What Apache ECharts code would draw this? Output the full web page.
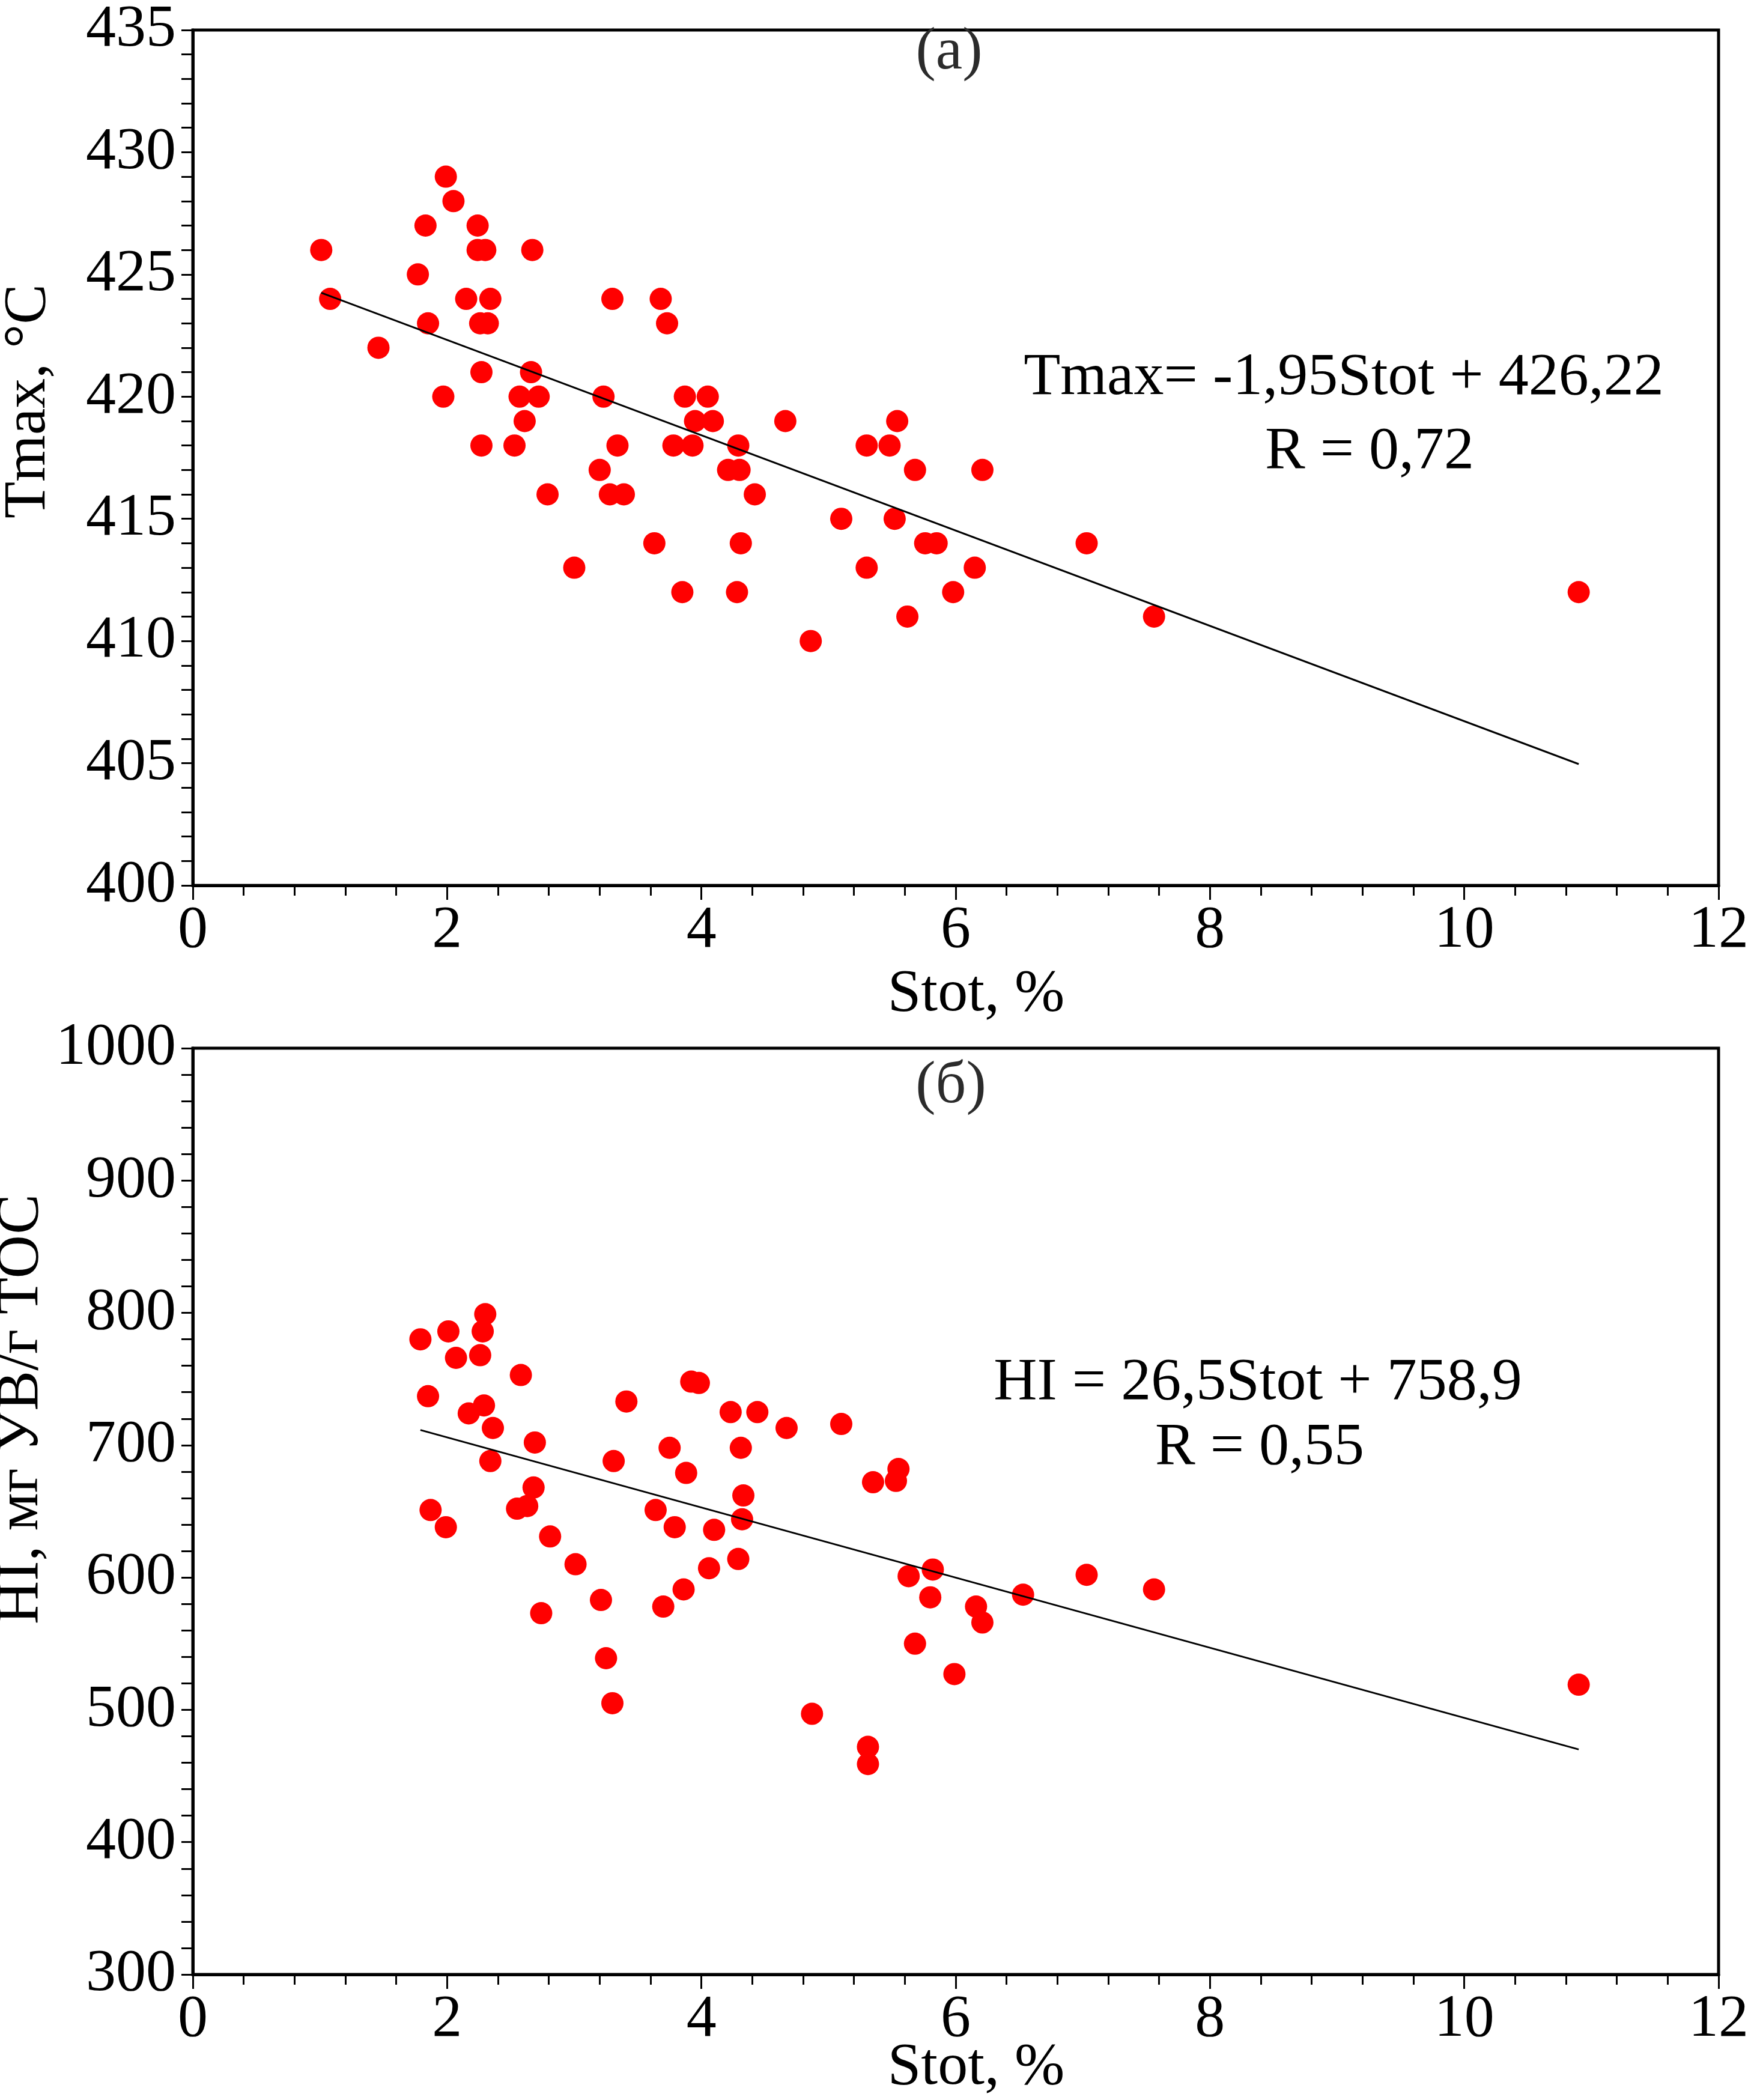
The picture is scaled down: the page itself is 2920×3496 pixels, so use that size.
<!DOCTYPE html>
<html>
<head>
<meta charset="utf-8">
<title>Tmax, HI vs Stot</title>
<script src="https://cdn.jsdelivr.net/npm/echarts@6/dist/echarts.min.js"></script>
<style>
  html, body { margin: 0; padding: 0; background: #fff; }
  #chart { width: 2920px; height: 3496px; }
</style>
</head>
<body>
<div id="chart"></div>
<script>
// (a) Tmax, °C against Stot, %
var stotA = [1.01, 1.08, 1.46, 1.77, 1.83, 1.85, 1.97, 1.99, 2.05, 2.15, 2.24, 2.24, 2.30, 2.26, 2.32, 2.34,
  2.27, 2.27, 2.53, 2.57, 2.61, 2.66, 2.67, 2.72, 2.79, 3.00, 3.20, 3.23, 3.28, 3.30, 3.34, 3.39,
  3.63, 3.68, 3.73, 3.78, 3.85, 3.87, 3.93, 3.95, 4.05, 4.09, 4.21, 4.30, 4.29, 4.28, 4.31, 4.42,
  4.66, 4.86, 5.10, 5.30, 5.30, 5.48, 5.52, 5.54, 5.62, 5.68, 5.76, 5.85, 5.98, 6.15, 6.21, 7.03,
  7.56, 10.90];
var tmaxA = [426, 424, 422, 425, 427, 423, 420, 429, 428, 424, 427, 426, 426, 423, 423, 424,
  421, 418, 418, 420, 419, 421, 426, 420, 416, 413, 417, 420, 416, 424, 418, 416,
  414, 424, 423, 418, 412, 420, 418, 419, 420, 419, 417, 417, 418, 412, 414, 416,
  419, 410, 415, 418, 413, 418, 415, 419, 411, 417, 414, 414, 412, 413, 417, 414,
  411, 412];

// (б) HI, мг УВ/г ТОС against Stot, %
var stotB = [1.79, 1.85, 1.87, 1.99, 2.01, 2.07, 2.17, 2.26, 2.28, 2.30, 2.29, 2.36, 2.34, 2.58, 2.55, 2.63,
  2.69, 2.68, 2.74, 2.81, 3.01, 3.21, 3.25, 3.30, 3.31, 3.41, 3.64, 3.70, 3.75, 3.79, 3.86, 3.88,
  3.92, 3.98, 4.06, 4.10, 4.23, 4.29, 4.31, 4.32, 4.33, 4.44, 4.67, 4.87, 5.10, 5.31, 5.31, 5.35,
  5.53, 5.55, 5.63, 5.68, 5.80, 5.82, 5.99, 6.16, 6.21, 6.53, 7.03, 7.56, 10.90];
var hiB = [780, 737, 651, 638, 786, 766, 724, 768, 786, 799, 730, 713, 688, 753, 652, 654,
  702, 668, 573, 631, 610, 583, 539, 505, 688, 733, 651, 578, 698, 638, 591, 679,
  748, 747, 607, 636, 725, 614, 698, 644, 662, 725, 713, 497, 716, 472, 459, 672,
  673, 682, 601, 550, 585, 606, 527, 578, 566, 587, 602, 591, 519];

// regression lines (slope, intercept)
var fitA = [-1.95, 426.22];
var fitB = [-26.5, 758.9];

var xTicks = [0, 2, 4, 6, 8, 10, 12];
var labelsA = ['Tmax= -1,95Stot + 426,22', 'R = 0,72'];
var labelsB = ['HI = 26,5Stot + 758,9', 'R = 0,55'];

var FONT = '"Liberation Serif", "Times New Roman", serif';

function pairs(xs, ys) {
  return xs.map(function (x, i) { return [x, ys[i]]; });
}
function fitLine(xs, fit) {
  var lo = Math.min.apply(null, xs), hi = Math.max.apply(null, xs);
  return [[lo, fit[0] * lo + fit[1]], [hi, fit[0] * hi + fit[1]]];
}
function plain(v) { return String(v); }

function xAxisOf(idx) {
  return {
    gridIndex: idx, type: 'value', min: xTicks[0], max: xTicks[xTicks.length - 1], interval: 2,
    axisLine: {lineStyle: {color: '#000', width: 5}},
    axisTick: {inside: false, length: 24, lineStyle: {color: '#000', width: 3}},
    minorTick: {show: true, splitNumber: 5, length: 17, lineStyle: {color: '#000', width: 3}},
    splitLine: {show: false},
    axisLabel: {color: '#000', fontFamily: FONT, fontSize: 100, margin: 26, formatter: plain}
  };
}
function yAxisOf(idx, min, max, step, pad) {
  return {
    gridIndex: idx, type: 'value', min: min, max: max, interval: step,
    axisLine: {lineStyle: {color: '#000', width: 5}},
    axisTick: {inside: false, length: 19, lineStyle: {color: '#000', width: 3}},
    minorTick: {show: true, splitNumber: 5, length: 19, lineStyle: {color: '#000', width: 3}},
    splitLine: {show: false},
    axisLabel: {color: '#000', fontFamily: FONT, fontSize: 100, margin: 28, padding: [0, 0, pad, 0], formatter: plain}
  };
}
function txt(str, x, y, rot, color) {
  return {
    type: 'text', x: x, y: y, rotation: rot || 0, z: 10,
    style: {
      text: str, x: 0, y: 0, fill: color || '#000',
      font: '100px ' + FONT,
      align: 'center', verticalAlign: 'middle',
      textAlign: 'center', textVerticalAlign: 'middle'
    }
  };
}

var chart = echarts.init(document.getElementById('chart'), null, {renderer: 'canvas'});
chart.setOption({
  animation: false,
  backgroundColor: '#fff',
  grid: [
    {left: 321, right: 59, top: 45, height: 1429, show: true, borderColor: '#000', borderWidth: 5, backgroundColor: 'transparent'},
    {left: 321, right: 59, top: 1745, height: 1542, show: true, borderColor: '#000', borderWidth: 5, backgroundColor: 'transparent'}
  ],
  xAxis: [xAxisOf(0), xAxisOf(1)],
  yAxis: [yAxisOf(0, 400, 435, 5, 20), yAxisOf(1, 300, 1000, 100, 14)],
  series: [
    {type: 'scatter', xAxisIndex: 0, yAxisIndex: 0, data: pairs(stotA, tmaxA), symbolSize: 37,
      itemStyle: {color: '#ff0000', opacity: 1}, z: 2},
    {type: 'line', xAxisIndex: 0, yAxisIndex: 0, data: fitLine(stotA, fitA), symbol: 'none',
      lineStyle: {color: '#000', width: 3}, z: 3},
    {type: 'scatter', xAxisIndex: 1, yAxisIndex: 1, data: pairs(stotB, hiB), symbolSize: 37,
      itemStyle: {color: '#ff0000', opacity: 1}, z: 2},
    {type: 'line', xAxisIndex: 1, yAxisIndex: 1, data: fitLine(stotB, fitB), symbol: 'none',
      lineStyle: {color: '#000', width: 3}, z: 3}
  ],
  graphic: [
    txt('(a)', 1580, 88, 0, '#2b2b2b'),
    txt(labelsA[0], 2237, 630),
    txt(labelsA[1], 2280, 753),
    txt('Stot, %', 1625, 1656),
    txt('Tmax, °C', 48, 668, Math.PI / 2),
    txt('(б)', 1583, 1809, 0, '#2b2b2b'),
    txt(labelsB[0], 2094, 2303),
    txt(labelsB[1], 2097, 2411),
    txt('Stot, %', 1625, 3443),
    txt('HI, мг УВ/г ТОС', 36, 2346, Math.PI / 2)
  ]
});
</script>
</body>
</html>
